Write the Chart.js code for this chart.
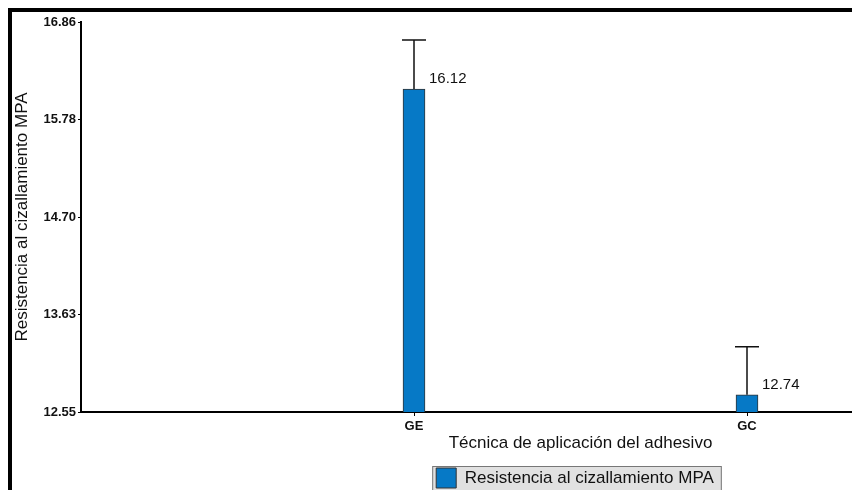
<!DOCTYPE html>
<html>
<head>
<meta charset="utf-8">
<script src="https://cdn.jsdelivr.net/npm/chart.js@4.4.1/dist/chart.umd.min.js"></script>
<style>
  html, body { margin: 0; padding: 0; background: #fff; overflow: hidden; width: 852px; height: 490px; }
  #frame { position: absolute; left: 8px; top: 8px; border: 4px solid #000; width: 1090px; height: 500px; }
  canvas { display: block; }
</style>
</head>
<body>
<div id="frame"><canvas id="chart" width="1080" height="486"></canvas></div>
<script>
/* ── Data ─────────────────────────────────────────────── */
const CATEGORIES = ["GE", "GC"];
const VALUES = [16.12, 12.74];
const ERRORS = [0.54, 0.53];          // upper error bar length
const Y_TICKS = [12.55, 13.63, 14.70, 15.78, 16.86];
const SERIES_NAME = "Resistencia al cizallamiento MPA";

const BAR_COLOR = "#0679c6";
const INK = "#111";
const FONT = "'Liberation Sans', Arial, sans-serif";

/* ── Error bars + value labels ───────────────────────── */
const errorBars = {
    id: "errorBars",
    afterDatasetsDraw(chart) {
        const ctx = chart.ctx;
        const y = chart.scales.y;
        const meta = chart.getDatasetMeta(0);
        ctx.save();
        meta.data.forEach((bar, i) => {
            const top = y.getPixelForValue(VALUES[i] + ERRORS[i]);
            ctx.strokeStyle = INK;
            ctx.lineWidth = 1.5;
            ctx.beginPath();
            ctx.moveTo(bar.x, bar.y);
            ctx.lineTo(bar.x, top);
            ctx.moveTo(bar.x - 12, top);
            ctx.lineTo(bar.x + 12, top);
            ctx.stroke();

            ctx.fillStyle = INK;
            ctx.font = "15px " + FONT;
            ctx.textBaseline = "middle";
            ctx.textAlign = "left";
            ctx.fillText(VALUES[i].toFixed(2), bar.x + 15, bar.y - 10);
        });
        ctx.restore();
    }
};

/* ── Grey legend box, nudged right like the original ─── */
const legendBox = {
    id: "legendBox",
    afterLayout(chart) {
        const lg = chart.legend;
        if (!lg) return;
        lg.left += 29;
        lg.right += 29;
    },
    beforeDraw(chart) {
        const lg = chart.legend;
        if (!lg || !lg.legendHitBoxes.length) return;
        const hb = lg.legendHitBoxes[0];
        const ctx = chart.ctx;
        ctx.save();
        ctx.fillStyle = "#e1e1e1";
        ctx.strokeStyle = "#777";
        ctx.lineWidth = 1;
        ctx.fillRect(hb.left - 4, hb.top - 2, hb.width + 12, hb.height + 10);
        ctx.strokeRect(hb.left - 3.5, hb.top - 1.5, hb.width + 11, hb.height + 9);
        ctx.restore();
    }
};

new Chart(document.getElementById("chart"), {
    type: "bar",
    data: {
        datasets: [{
            label: SERIES_NAME,
            data: CATEGORIES.map((c, i) => ({ x: i + 1, y: VALUES[i] })),
            backgroundColor: BAR_COLOR,
            borderColor: "#333",
            borderWidth: 1,
            barThickness: 22,
        }]
    },
    options: {
        responsive: false,
        animation: false,
        layout: { padding: { top: 10, right: 12, left: 0, bottom: 0 } },
        plugins: {
            tooltip: { enabled: false },
            legend: {
                position: "bottom",
                labels: {
                    boxWidth: 20,
                    boxHeight: 20,
                    padding: 10,
                    color: INK,
                    font: { family: FONT, size: 17 }
                }
            }
        },
        scales: {
            x: {
                type: "linear",
                min: 0,
                max: 3,
                offset: false,
                afterBuildTicks: (s) => { s.ticks = CATEGORIES.map((c, i) => ({ value: i + 1 })); },
                afterFit: (s) => { s.height = 46; },
                ticks: {
                    autoSkip: false,
                    padding: 3,
                    color: INK,
                    font: { family: FONT, size: 13, weight: "bold" },
                    callback: (v, i) => CATEGORIES[i]
                },
                grid: { offset: false, drawOnChartArea: false, drawTicks: true, tickLength: 4, color: "#000" },
                border: { display: true, color: "#000", width: 2 },
                title: {
                    display: true,
                    text: "Técnica de aplicación del adhesivo",
                    color: INK,
                    padding: { top: 4, bottom: 4 },
                    font: { family: FONT, size: 17 }
                }
            },
            y: {
                min: 12.55,
                max: 16.86,
                afterBuildTicks: (s) => { s.ticks = Y_TICKS.map(v => ({ value: v })); },
                afterFit: (s) => { s.width = 69; },
                ticks: {
                    padding: 2,
                    color: INK,
                    font: { family: FONT, size: 13, weight: "bold" },
                    callback: (v) => v.toFixed(2)
                },
                grid: { drawOnChartArea: false, drawTicks: true, tickLength: 3, color: "#000" },
                border: { display: true, color: "#000", width: 2 },
                title: {
                    display: true,
                    text: SERIES_NAME,
                    color: INK,
                    padding: { top: 0, bottom: 0 },
                    font: { family: FONT, size: 17 }
                }
            }
        }
    },
    plugins: [legendBox, errorBars]
});
</script>
</body>
</html>
